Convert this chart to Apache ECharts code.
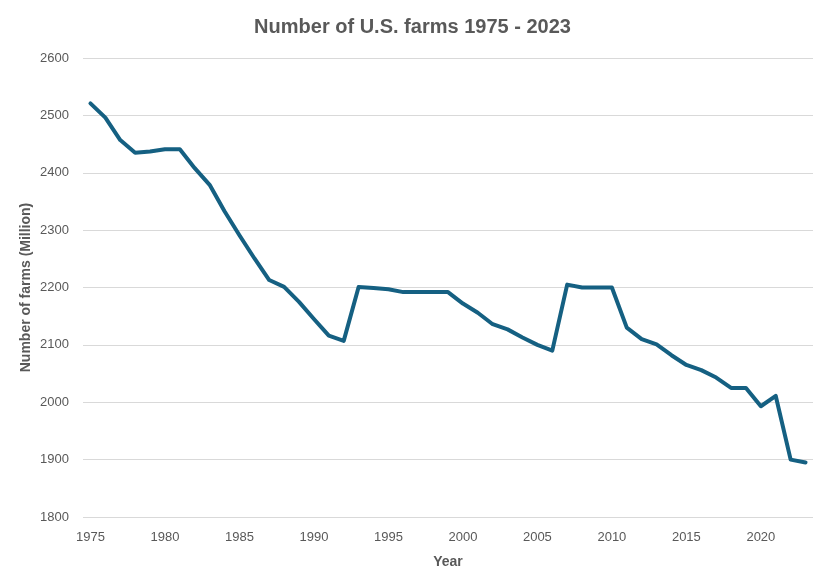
<!DOCTYPE html>
<html>
<head>
<meta charset="utf-8">
<script src="https://cdn.jsdelivr.net/npm/echarts@6/dist/echarts.min.js"></script>
<style>
  html, body { margin: 0; padding: 0; background: #fff; }
  #chart { width: 825px; height: 582px; }
</style>
</head>
<body>
<div id="chart"></div>
<script>
// years on the category axis
const years = [];
for (let y = 1975; y <= 2023; y++) years.push(String(y));

// number of farms
const farms = [
  2521, 2496, 2457, 2435, 2437, 2441, 2441, 2408, 2379, 2333,
  2291, 2251, 2213, 2201, 2175, 2145, 2116, 2107, 2201, 2199,
  2197, 2192, 2192, 2192, 2192, 2172, 2156, 2136, 2127, 2113,
  2100, 2090, 2205, 2200, 2200, 2200, 2130, 2110, 2101, 2082,
  2065, 2056, 2043, 2025, 2025, 1993, 2011, 1900, 1895
];

const yTicks = { min: 1800, max: 2600, step: 100 };

const textColor = "#595959";
const font = "'Liberation Sans', Arial, sans-serif";

const chart = echarts.init(document.getElementById("chart"));
chart.setOption({
  animation: false,
  title: {
    text: "Number of U.S. farms 1975 - 2023",
    left: "center",
    top: 12,
    textStyle: { color: textColor, fontSize: 20, fontWeight: "bold", fontFamily: font },
  },
  grid: { left: 83, right: 12, top: 58, bottom: 65 },
  xAxis: {
    type: "category",
    data: years,
    boundaryGap: true,
    name: "Year",
    nameLocation: "middle",
    nameGap: 38,
    nameMoveOverlap: false,
    nameTextStyle: { color: textColor, fontSize: 14, fontWeight: "bold", fontFamily: font },
    axisLine: { show: false },
    axisTick: { show: false },
    axisLabel: {
      color: textColor,
      fontSize: 13,
      fontFamily: font,
      margin: 14,
      interval: (i, v) => (Number(v) - 1975) % 5 === 0,
    },
  },
  yAxis: {
    type: "value",
    min: yTicks.min,
    max: yTicks.max,
    interval: yTicks.step,
    name: "Number of farms (Million)",
    nameLocation: "middle",
    nameGap: 50,
    nameMoveOverlap: false,
    nameTextStyle: { color: textColor, fontSize: 14, fontWeight: "bold", fontFamily: font },
    axisLabel: {
      color: textColor,
      fontSize: 13,
      fontFamily: font,
      margin: 14,
      formatter: (v) => String(v),
    },
    splitLine: { lineStyle: { color: "#d9d9d9", width: 1 } },
  },
  series: [
    {
      type: "line",
      data: farms,
      showSymbol: false,
      lineStyle: { color: "#156082", width: 4, join: "round", cap: "round" },
      itemStyle: { color: "#156082" },
    },
  ],
});
</script>
</body>
</html>
